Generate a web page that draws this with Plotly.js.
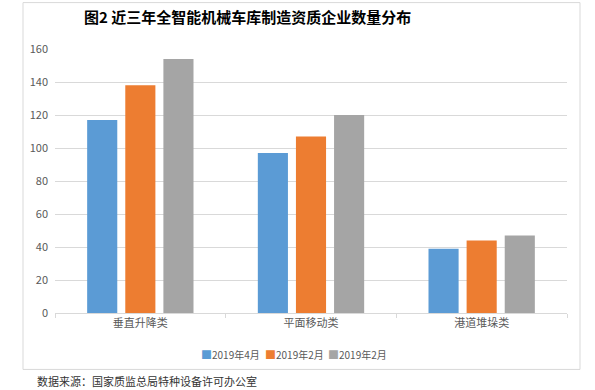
<!DOCTYPE html>
<html><head><meta charset="utf-8">
<script src="https://cdn.plot.ly/plotly-3.0.1.min.js"></script>
<style>html,body{margin:0;padding:0;background:#fff}#chart{width:595px;height:390px}</style>
</head><body><div id="chart"></div>
<script>
const categories = ["垂直升降类", "平面移动类", "港道堆垛类"];
const seriesNames = ["2019年4月", "2019年2月", "2019年2月"];
// values per series across categories
const s_apr = [117, 97, 39];
const s_feb1 = [138, 107, 44];
const s_feb2 = [154, 120, 47];
const colors = ["#5b9bd5", "#ed7d31", "#a5a5a5"];
const titleText = "图2 近三年全智能机械车库制造资质企业数量分布";
const sourceText = "数据来源：国家质监总局特种设备许可办公室";
const yTicks = [0, 20, 40, 60, 80, 100, 120, 140, 160];

const font = "Noto Sans CJK SC, Noto Sans, sans-serif";
const data = [s_apr, s_feb1, s_feb2].map((v, i) => ({
  type: "bar", x: categories, y: v, name: seriesNames[i],
  marker: {color: colors[i]}, hoverinfo: "none"
}));

const ml = 55, plotW = 512, plotBottom = 312.7, plotH = 263.4;
const px = x => (x - ml) / plotW;
const py = y => (plotBottom - y) / plotH;

const legendAnn = seriesNames.map((n, i) => ({
  text: '<span style="color:' + colors[i] + ';font-size:11px">■</span>' + n,
  xref: "paper", yref: "paper", x: px(199 + 63.5 * i), y: py(354),
  xanchor: "left", yanchor: "middle", showarrow: false,
  font: {family: font, size: 10, color: "#595959"}
}));

const layout = {
  width: 595, height: 390,
  margin: {l: ml, r: 28, t: 49, b: 77},
  paper_bgcolor: "#fff", plot_bgcolor: "#fff",
  font: {family: font, size: 11, color: "#595959"},
  barmode: "group", bargap: 0.33, bargroupgap: 0.21,
  showlegend: false,
  xaxis: {
    showgrid: false, showline: true, linecolor: "#d9d9d9", linewidth: 1,
    ticks: "outside", tickson: "boundaries", ticklen: 4, tickcolor: "#d9d9d9",
    tickfont: {size: 11, color: "#595959"}, fixedrange: true
  },
  yaxis: {
    range: [0, 160], tickvals: yTicks, showgrid: true, gridcolor: "#d9d9d9", gridwidth: 1,
    zeroline: false, showline: false, ticks: "", ticklabelstandoff: 6,
    tickfont: {size: 11, color: "#595959"}, fixedrange: true
  },
  shapes: [{
    type: "rect", xref: "paper", yref: "paper",
    x0: px(23), x1: px(580), y0: py(369), y1: py(3),
    line: {color: "#d9d9d9", width: 1}, fillcolor: "rgba(0,0,0,0)", layer: "below"
  }],
  annotations: [
    {text: "<b>" + titleText + "</b>", xref: "paper", yref: "paper",
     x: px(247), y: py(17), xanchor: "center", yanchor: "middle",
     showarrow: false, font: {family: font, size: 15, color: "#000"}},
    {text: sourceText, xref: "paper", yref: "paper",
     x: px(35), y: py(381), xanchor: "left", yanchor: "middle",
     showarrow: false, font: {family: font, size: 11, color: "#333"}}
  ].concat(legendAnn)
};
Plotly.newPlot("chart", data, layout, {displayModeBar: false, staticPlot: true});
</script></body></html>
